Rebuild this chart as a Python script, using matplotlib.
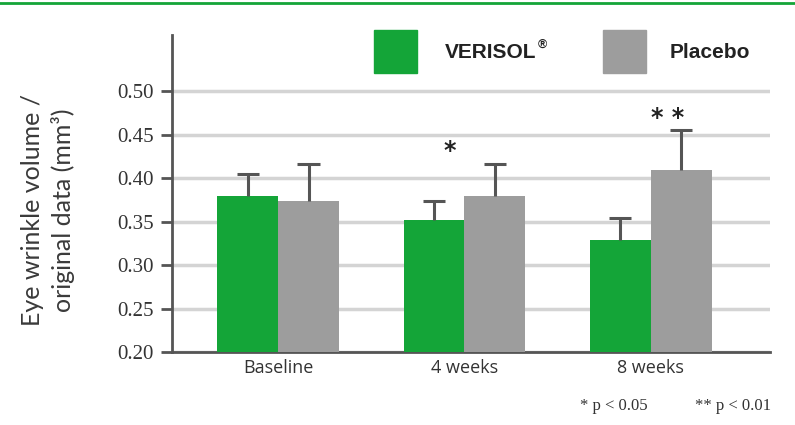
import numpy as np
import matplotlib
matplotlib.use("Agg")
import matplotlib.pyplot as plt
from matplotlib.lines import Line2D
from matplotlib.patches import Rectangle

categories = ["Baseline", "4 weeks", "8 weeks"]
verisol = [0.380, 0.352, 0.329]
verisol_err = [0.025, 0.022, 0.025]
placebo = [0.374, 0.380, 0.410]
placebo_err = [0.042, 0.036, 0.045]
stars = ["", "*", "* *"]
star_dx = [0, -0.08, 0.09]

green = "#14a538"
grey = "#9d9d9d"
dark = "#555555"

fig = plt.figure(figsize=(7.95, 4.25), dpi=100)
ax = fig.add_axes([0.2164, 0.1718, 0.752, 0.746])

x = np.arange(len(categories))
w = 0.327
ax.bar(x - w / 2, verisol, w, color=green, zorder=3)
ax.bar(x + w / 2, placebo, w, color=grey, zorder=3)

# upper-only error bars
for xs, vals, errs in [(x - w / 2, verisol, verisol_err), (x + w / 2, placebo, placebo_err)]:
    tops = np.array(vals) + np.array(errs)
    ax.vlines(xs, vals, tops, color=dark, linewidth=2.2, zorder=4)
    ax.hlines(tops, xs - 0.06, xs + 0.06, color=dark, linewidth=2.2, zorder=4)

# significance stars
for i, s in enumerate(stars):
    if s:
        top = max(verisol[i] + verisol_err[i], placebo[i] + placebo_err[i])
        ax.text(x[i] + star_dx[i], top + 0.001, s, ha="center", va="bottom",
                fontsize=17, fontweight="bold", color="#222222")

ax.set_xlim(-0.57, 2.64)
ax.set_ylim(0.2, 0.565)
yt = np.arange(0.20, 0.501, 0.05)
ax.set_yticks(yt)
ax.set_yticklabels([f"{v:.2f}" for v in yt],
                   family="Liberation Serif", fontsize=15, color="#333333")
ax.set_xticks(x)
ax.set_xticklabels(categories, fontsize=13, color="#333333",
                   family=["Open Sans", "DejaVu Sans"])
ax.tick_params(axis="x", length=0, pad=5)
ax.tick_params(axis="y", length=8, width=2, color=dark, pad=5)

ax.yaxis.grid(True, color="#d4d4d4", linewidth=2.5, zorder=0)
ax.set_axisbelow(True)
for sp in ["top", "right"]:
    ax.spines[sp].set_visible(False)
for sp in ["left", "bottom"]:
    ax.spines[sp].set_color(dark)
    ax.spines[sp].set_linewidth(2)

fig.text(0.06, 0.506, "Eye wrinkle volume /\noriginal data (mm³)",
         rotation=90, ha="center", va="center", fontsize=18,
         family=["Lato", "DejaVu Sans"], color="#3a3a3a", linespacing=1.35)

# legend drawn by hand
fig.add_artist(Rectangle((374 / 795, 1 - 73 / 425), 43 / 795, 43 / 425,
                         color=green, transform=fig.transFigure))
fig.add_artist(Rectangle((603 / 795, 1 - 73 / 425), 43 / 795, 43 / 425,
                         color=grey, transform=fig.transFigure))
t1 = fig.text(445 / 795, 1 - 52 / 425, "VERISOL", family="Liberation Sans",
              fontweight="bold", fontsize=15, va="center", ha="left", color="#222222")
fig.text(670 / 795, 1 - 52 / 425, "Placebo", family="Liberation Sans",
         fontweight="bold", fontsize=15, va="center", ha="left", color="#222222")
fig.canvas.draw()
bb = t1.get_window_extent().transformed(fig.transFigure.inverted())
fig.text(bb.x1 + 0.002, 1 - 45 / 425, "®", family="Liberation Sans",
         fontweight="bold", fontsize=9, va="center", ha="left", color="#222222")

fig.text(0.73, 0.035, "* p < 0.05", family="Liberation Serif", fontsize=12,
         ha="left", color="#333333")
fig.text(0.874, 0.035, "** p < 0.01", family="Liberation Serif", fontsize=12,
         ha="left", color="#333333")

# top rule
fig.add_artist(Line2D([0, 1], [0.993, 0.993], color=green, linewidth=2,
                      transform=fig.transFigure))

fig.savefig("out.png", dpi=100)
